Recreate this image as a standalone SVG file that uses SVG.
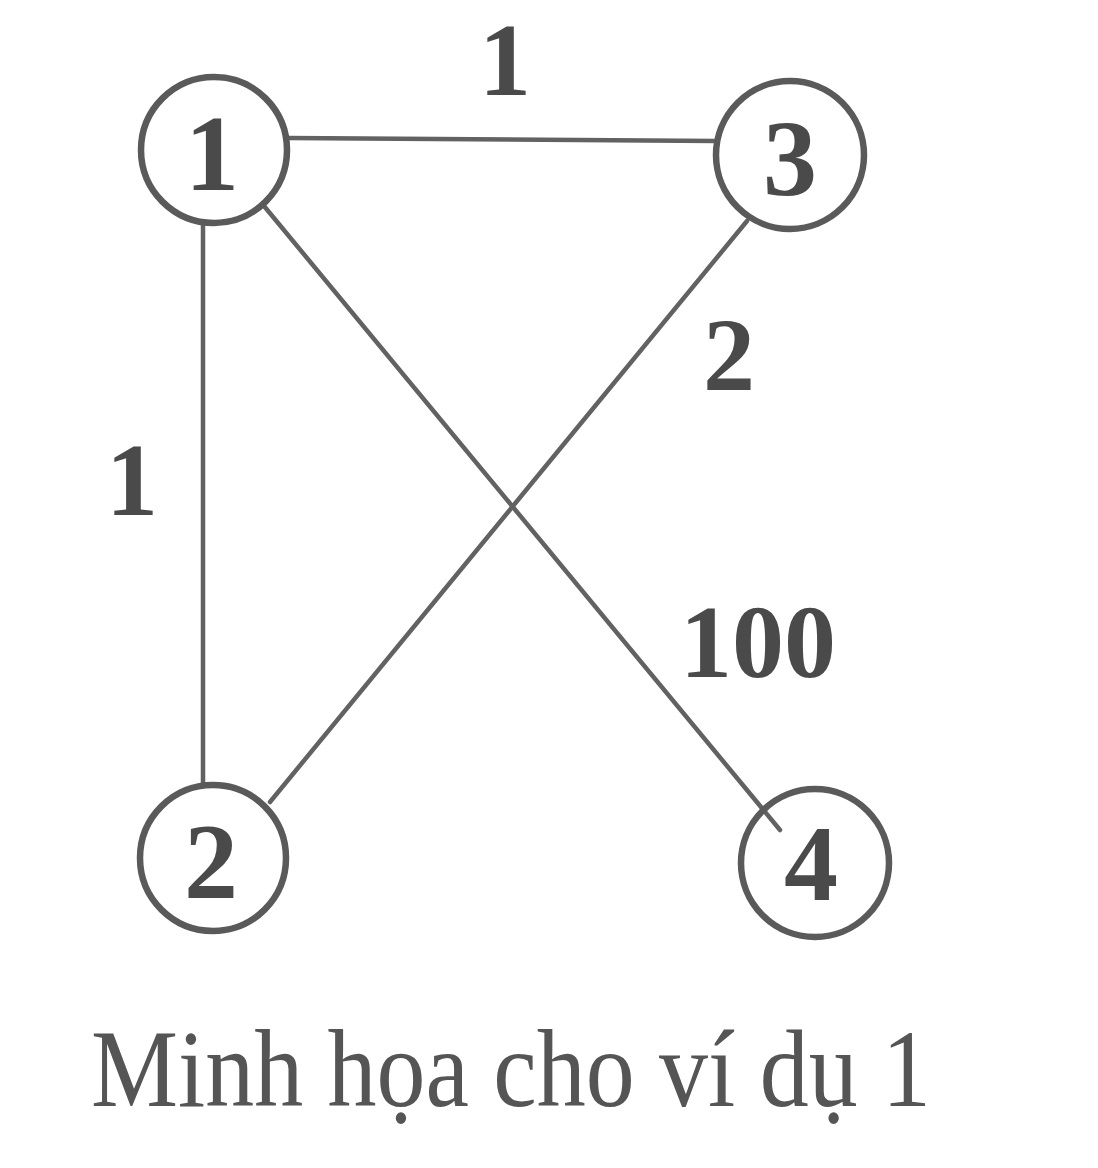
<svg xmlns="http://www.w3.org/2000/svg" width="1098" height="1168" viewBox="0 0 1098 1168">
<style>
.node{fill:none;stroke:#5a5a5a;stroke-width:6.5}
.nlab{font-family:"Liberation Serif","DejaVu Serif",serif;font-weight:bold;font-size:108px;fill:#4a4a4a;text-anchor:middle}
.elab{font-family:"Liberation Serif","DejaVu Serif",serif;font-weight:bold;font-size:104px;fill:#4a4a4a;text-anchor:middle}
.edge{stroke:#626262;stroke-width:4.5;fill:none;stroke-linecap:round}
.cap{font-family:"Liberation Serif","DejaVu Serif",serif;font-size:110px;fill:#555555}
</style>
<rect width="1098" height="1168" fill="#ffffff"/>
<g id="connectors">
<line id="e1-3" class="edge" x1="288" y1="138" x2="716" y2="141"/>
<line id="e1-2" class="edge" x1="203" y1="222" x2="203" y2="786"/>
<line id="e1-4" class="edge" x1="264" y1="206" x2="780" y2="830"/>
<line id="e3-2" class="edge" x1="747" y1="221" x2="270" y2="802"/>
<text class="elab" x="505" y="95">1</text>
<text class="elab" x="132" y="515">1</text>
<text class="elab" x="729" y="390">2</text>
<text class="elab" x="758" y="677">100</text>
</g>
<g id="node1">
<circle class="node" cx="214" cy="150" r="73"/>
<text class="nlab" x="212" y="190">1</text>
</g>
<g id="node3">
<circle class="node" cx="790" cy="155" r="74"/>
<text class="nlab" x="790" y="195">3</text>
</g>
<g id="node2">
<circle class="node" cx="213" cy="858" r="73"/>
<text class="nlab" x="211" y="898">2</text>
</g>
<g id="node4">
<circle class="node" cx="815" cy="863" r="74"/>
<text class="nlab" x="811" y="900">4</text>
</g>
<text class="cap" x="91" y="1106" textLength="840" lengthAdjust="spacingAndGlyphs">Minh họa cho ví dụ 1</text>
</svg>
